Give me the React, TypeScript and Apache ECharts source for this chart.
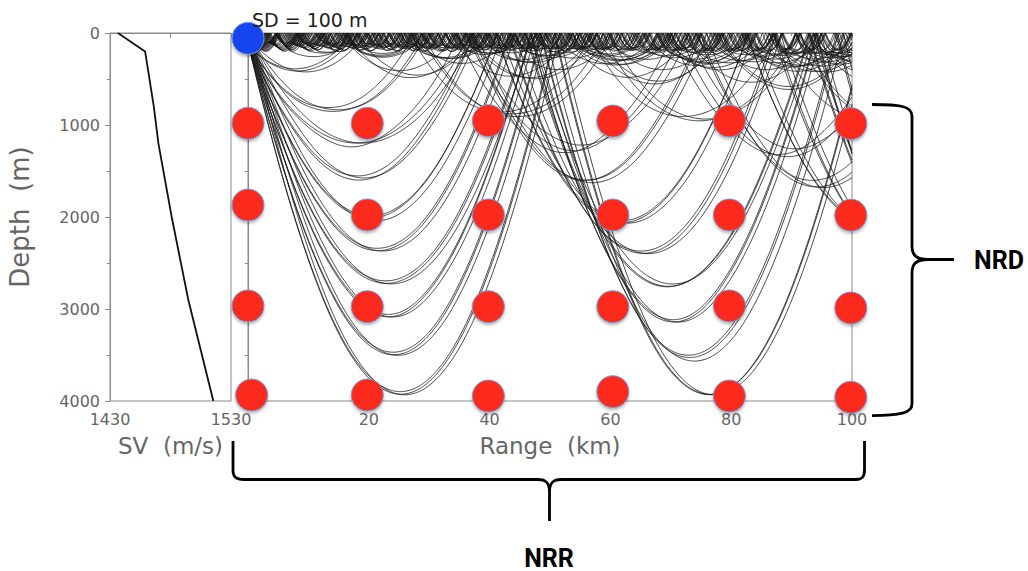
import React, { useEffect, useRef } from 'react';
import * as echarts from 'echarts';

// ---------- data ----------
// Sound-speed profile (left panel)
const svDepths = [0, 200, 350, 800, 1200, 2000, 2900, 4000];
const svSpeeds = [1436.5, 1459, 1460.8, 1466.2, 1470, 1481, 1494.7, 1515.4];
const svAxisMin = 1430;
const svAxisMax = 1530;

// Source
const sourceDepthM = 100;
const sourceMarker = [0, 58]; // [range km, depth m] of the drawn blue dot

// Ray fan: depths (m) at which the drawn arcs turn
const ductTurnDepths = [100, 107, 114, 121, 128, 135, 142, 149, 156, 163, 170, 178, 186, 194];
const deepTurnDepths = [384, 819, 1200, 1562, 1980, 2340, 2685, 3065, 3464, 3900];
const bundleSpreadM = 30;
const maxRangeKm = 100;
const bottomDepthM = 4000;

// Receivers (red dots)
const receiverRangeKm = [
  0, 0, 0, 0.6,
  19.75, 19.75, 19.75, 19.75,
  39.8, 39.8, 39.8, 39.8,
  60.4, 60.4, 60.4, 60.4,
  79.7, 79.7, 79.7, 79.7,
  99.8, 99.8, 99.8, 99.8,
];
const receiverDepthM = [
  982, 1870, 2967, 3935,
  982, 1978, 2975, 3935,
  953, 1978, 2975, 3946,
  957, 1978, 2975, 3899,
  957, 1978, 2967, 3946,
  985, 1980, 2989, 3960,
];

// ---------- braces ----------
const braceNRD =
  'M872 104.5 C900 104.5 912 106 912 116 L912 246 C912 255 916 259.5 928 259.5 L954 259.5 ' +
  'M928 259.5 C916 259.5 912 264 912 273 L912 404 C912 413 900 415.6 872 415.6';
const braceNRR =
  'M233 441 L233 470 C233 477 236 479.5 244 479.5 L538 479.5 C546 479.5 549.5 483 549.5 492 L549.5 521 ' +
  'M549.5 492 C549.5 483 553 479.5 561 479.5 L856 479.5 C862 479.5 864.5 477 864.5 470 L864.5 441';

let shapesRegistered = false;
function registerShapes() {
  if (shapesRegistered) return;
  echarts.graphic.registerShape('braceNRD', echarts.graphic.extendPath(braceNRD, {}));
  echarts.graphic.registerShape('braceNRR', echarts.graphic.extendPath(braceNRR, {}));
  shapesRegistered = true;
}

// ---------- ray tracing through the profile ----------
function segIndex(z: number) {
  const zz = Math.max(0, Math.min(bottomDepthM, z));
  for (let i = 0; i < svDepths.length - 1; i++) {
    if (zz < svDepths[i + 1]) return i;
  }
  return svDepths.length - 2;
}
function soundSpeed(z: number) {
  const zz = Math.max(0, Math.min(bottomDepthM, z));
  const i = segIndex(zz);
  const t = (zz - svDepths[i]) / (svDepths[i + 1] - svDepths[i]);
  return svSpeeds[i] + t * (svSpeeds[i + 1] - svSpeeds[i]);
}
function speedGradient(z: number) {
  const i = segIndex(z);
  return (svSpeeds[i + 1] - svSpeeds[i]) / (svDepths[i + 1] - svDepths[i]);
}
function launchAngle(turnDepth: number) {
  const ratio = soundSpeed(sourceDepthM) / soundSpeed(turnDepth);
  return Math.acos(Math.min(1, ratio));
}
function traceRay(theta0: number, emitEvery: number) {
  const ds = 20;
  let r = 0;
  let z = sourceDepthM;
  let th = theta0;
  const pts: number[][] = [[0, z]];
  const deriv = (zz: number, tt: number) => {
    const c = soundSpeed(zz);
    const g = speedGradient(zz);
    return [Math.cos(tt), Math.sin(tt), (-g / c) * Math.cos(tt)];
  };
  let step = 0;
  while (r < maxRangeKm * 1000 && step < 40000) {
    const k1 = deriv(z, th);
    const k2 = deriv(z + 0.5 * ds * k1[1], th + 0.5 * ds * k1[2]);
    r += ds * k2[0];
    z += ds * k2[1];
    th += ds * k2[2];
    step++;
    if (z < 0) {
      z = -z;
      th = -th;
      pts.push([+(r / 1000).toFixed(3), 0]);
      continue;
    }
    if (z > bottomDepthM) {
      z = 2 * bottomDepthM - z;
      th = -th;
      pts.push([+(r / 1000).toFixed(3), bottomDepthM]);
      continue;
    }
    if (step % emitEvery === 0) pts.push([+(r / 1000).toFixed(3), +z.toFixed(1)]);
  }
  pts.push([+(r / 1000).toFixed(3), +z.toFixed(1)]);
  return pts;
}

function buildRays() {
  const rays: number[][][] = [];
  ductTurnDepths.forEach((zt) => {
    const a = launchAngle(zt);
    rays.push(traceRay(a, 4));
    if (a > 0) rays.push(traceRay(-a, 4));
  });
  deepTurnDepths.forEach((zt) => {
    const a = launchAngle(zt);
    const b = launchAngle(zt + bundleSpreadM);
    rays.push(traceRay(a, 8));
    rays.push(traceRay(-a, 8));
    rays.push(traceRay(b, 8));
  });
  return rays;
}

const FONT = 'DejaVu Sans';
const GRAY = '#666';
const AXIS_GRAY = '#8a8a8a';

export default function App() {
  const ref = useRef<HTMLDivElement>(null);
  useEffect(() => {
    if (!ref.current) return;
    registerShapes();
    const chart = echarts.init(ref.current, undefined, { renderer: 'svg' });
    const rays = buildRays();

    const axisCommon = {
      axisLine: { show: true, lineStyle: { color: AXIS_GRAY, width: 1 } },
      axisTick: { show: true, length: 5, lineStyle: { color: AXIS_GRAY } },
      minorTick: { show: true, splitNumber: 2, length: 3, lineStyle: { color: AXIS_GRAY } },
      splitLine: { show: false },
      axisLabel: { color: GRAY, fontSize: 16, fontFamily: FONT, margin: 10 },
      nameTextStyle: { color: GRAY, fontSize: 23, fontFamily: FONT },
    };

    const raySeries = rays.map((pts) => ({
      type: 'line',
      xAxisIndex: 1,
      yAxisIndex: 1,
      data: pts,
      showSymbol: false,
      symbol: 'none',
      clip: true,
      silent: true,
      z: 2,
      lineStyle: { color: '#1a1a1a', width: 0.9, opacity: 0.9 },
      emphasis: { disabled: true },
    }));

    const dotStyle = {
      opacity: 1,
      borderColor: '#7b96cf',
      borderWidth: 1,
      shadowBlur: 3,
      shadowOffsetY: 2,
      shadowColor: 'rgba(0,0,0,0.3)',
    };

    chart.setOption({
      animation: false,
      grid: [
        { left: 110, top: 33, width: 121, height: 368, show: true, borderColor: AXIS_GRAY, borderWidth: 1 },
        { left: 248, top: 33, width: 604, height: 368, show: true, borderColor: AXIS_GRAY, borderWidth: 1 },
      ],
      xAxis: [
        {
          ...axisCommon,
          type: 'value',
          gridIndex: 0,
          min: 0,
          max: svAxisMax - svAxisMin,
          interval: 50,
          minorTick: { show: false },
          axisLabel: {
            ...axisCommon.axisLabel,
            formatter: (v: number) => (v % 100 === 0 ? String(v + svAxisMin) : ''),
          },
          name: 'SV  (m/s)',
          nameLocation: 'middle',
          nameGap: 33,
        },
        {
          ...axisCommon,
          type: 'value',
          gridIndex: 1,
          min: 0,
          max: maxRangeKm,
          interval: 20,
          axisLabel: {
            ...axisCommon.axisLabel,
            formatter: (v: number) => (v === 0 ? '' : String(v)),
          },
          name: 'Range  (km)',
          nameLocation: 'middle',
          nameGap: 33,
        },
      ],
      yAxis: [
        {
          ...axisCommon,
          type: 'value',
          gridIndex: 0,
          inverse: true,
          min: 0,
          max: bottomDepthM,
          interval: 1000,
          axisLabel: {
            ...axisCommon.axisLabel,
            formatter: (v: number) => String(v),
          },
          name: 'Depth  (m)',
          nameLocation: 'middle',
          nameGap: 77,
          nameTextStyle: { color: GRAY, fontSize: 26, fontFamily: FONT },
        },
        {
          ...axisCommon,
          type: 'value',
          gridIndex: 1,
          inverse: true,
          min: 0,
          max: bottomDepthM,
          interval: 1000,
          axisLabel: { show: false },
        },
      ],
      series: [
        {
          type: 'line',
          xAxisIndex: 0,
          yAxisIndex: 0,
          data: svDepths.map((d, i) => [svSpeeds[i] - svAxisMin, d]),
          showSymbol: false,
          symbol: 'none',
          silent: true,
          lineStyle: { color: '#111', width: 1.8 },
          emphasis: { disabled: true },
        },
        ...raySeries,
        {
          type: 'scatter',
          xAxisIndex: 1,
          yAxisIndex: 1,
          clip: false,
          silent: true,
          z: 5,
          symbolSize: 32,
          data: receiverRangeKm.map((r, i) => [r, receiverDepthM[i]]),
          itemStyle: { ...dotStyle, color: '#fc2a1d' },
          emphasis: { disabled: true },
        },
        {
          type: 'scatter',
          xAxisIndex: 1,
          yAxisIndex: 1,
          clip: false,
          silent: true,
          z: 6,
          symbolSize: 32,
          data: [sourceMarker],
          itemStyle: { ...dotStyle, color: '#1545f0' },
          emphasis: { disabled: true },
        },
      ],
      graphic: [
        {
          type: 'text',
          left: 252,
          top: 10,
          style: { text: 'SD = 100 m', fill: '#222', fontSize: 19, fontFamily: FONT },
          z: 10,
        },
        {
          type: 'braceNRD',
          x: 0,
          y: 0,
          style: { stroke: '#000', lineWidth: 2.8, fill: 'none' },
          z: 10,
        },
        {
          type: 'braceNRR',
          x: 0,
          y: 0,
          style: { stroke: '#000', lineWidth: 2.8, fill: 'none' },
          z: 10,
        },
        {
          type: 'text',
          x: 999,
          y: 260,
          style: {
            text: 'NRD',
            fill: '#000',
            fontSize: 25,
            fontWeight: 'bold',
            fontFamily: 'Roboto',
            align: 'center',
            verticalAlign: 'middle',
          },
          z: 10,
        },
        {
          type: 'text',
          x: 549,
          y: 558,
          style: {
            text: 'NRR',
            fill: '#000',
            fontSize: 25,
            fontWeight: 'bold',
            fontFamily: 'Roboto',
            align: 'center',
            verticalAlign: 'middle',
          },
          z: 10,
        },
      ],
    });
    return () => chart.dispose();
  }, []);
  return (
    <div
      ref={ref}
      style={{ position: 'fixed', left: 0, top: 0, width: 1028, height: 571, background: '#fff' }}
    />
  );
}
